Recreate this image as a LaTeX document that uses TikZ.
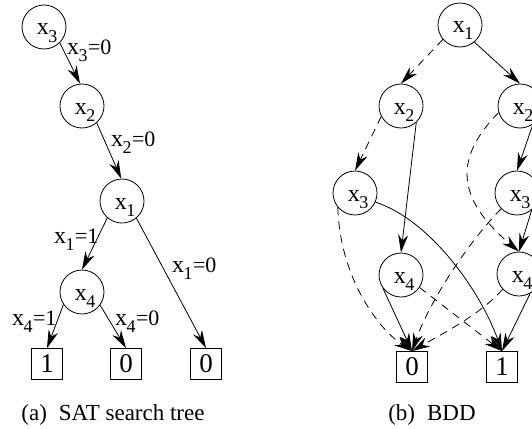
\documentclass[tikz,border=0pt]{standalone}
\usepackage{fontspec}
\setmainfont{Liberation Serif}
\usetikzlibrary{arrows.meta}

% variable name inside a circle: x with a large, low subscript
\newcommand\nlab[1]{\kern6pt\fontsize{24}{24}\selectfont x\kern-0.5pt\raisebox{-7pt}{\fontsize{18}{18}\selectfont #1}}
% branch label such as x3=0
\newcommand\elab[2]{{\fontsize{24}{24}\selectfont x}\kern-0.5pt\raisebox{-7pt}{\fontsize{18}{18}\selectfont #1}\kern0.3pt{\fontsize{22}{22}\selectfont =#2}}

\tikzset{
  var/.style={circle, draw, line width=0.8pt, minimum size=44pt, inner sep=0pt,
              text height=16pt, text depth=0pt},
  leaf/.style={rectangle, draw, line width=0.8pt, minimum width=31pt, minimum height=31pt,
               inner sep=0pt, font=\fontsize{27}{27}\selectfont},
  edgelab/.style={anchor=base west, inner sep=0pt},
  arr/.style={line width=0.8pt, -{Stealth[length=18pt,width=10pt]}},
  dsh/.style={dash pattern=on 8pt off 6pt},
  capt/.style={anchor=base, inner sep=0pt, font=\fontsize{23}{23}\selectfont},
}

\begin{document}
\begin{tikzpicture}[x=1pt, y=-1pt]
\useasboundingbox (0,0) rectangle (532,428);
\clip (0,0) rectangle (532,428);

% ---------- (a) search tree ----------
\node[var] (t3) at (44,27)  {\nlab{3}};
\node[var] (t2) at (82,106) {\nlab{2}};
\node[var] (t1) at (122,201) {\nlab{1}};
\node[var] (t4) at (82,292) {\nlab{4}};
\node[leaf] (l1)  at (47,364)  {1};
\node[leaf] (l0a) at (126,364) {0};
\node[leaf] (l0b) at (206,364) {0};

\draw[arr] (t3.-45) -- (t2.95);
\draw[arr] (t2.-49) -- (t1.92);
\draw[arr] (t1.229) -- (t4.north);
\draw[arr] (t1.-50) -- (l0b.north);
\draw[arr] (t4.214) -- (l1.north);
\draw[arr] (t4.-36) -- (l0a.north);

\node[edgelab] (e3) at (67,55)  {\elab{3}{0}};
\node[edgelab] (e2) at (111,146) {\elab{2}{0}};
\node[edgelab] (e1a) at (54,243) {\elab{1}{1}};
\node[edgelab] (e1b) at (172,272) {\elab{1}{0}};
\node[edgelab] (e4a) at (12,325) {\elab{4}{1}};
\node[edgelab] (e4b) at (115,325) {\elab{4}{0}};

\node[capt] (capa) at (113,420) {(a)\hspace{12pt}SAT search tree};

% ---------- (b) BDD ----------
\node[var] (b1)  at (460,25)  {\nlab{1}};
\node[var] (b2L) at (401,106) {\nlab{2}};
\node[var] (b2R) at (520,106) {\nlab{2}};
\node[var] (b3L) at (355,193) {\nlab{3}};
\node[var] (b3R) at (517,193) {\nlab{3}};
\node[var] (b4L) at (401,275) {\nlab{4}};
\node[var] (b4R) at (519,274) {\nlab{4}};
\node[leaf] (z0) at (412,367) {0};
\node[leaf] (z1) at (502,367) {1};

\draw[arr,dsh] (b1.220) -- (b2L.north);
\draw[arr] (b1.-50) -- (b2R.north);
\draw[arr,dsh] (b2L.208) -- (b3L.north);
\draw[arr] (b2L.-47) -- (b4L.north);
\draw[arr] (b2R.-55) -- (b3R.north);
\draw[arr,dsh] (b2R.197) .. controls (452,160) and (458,200) .. (b4R.north);
\draw[arr,dsh] (b3L.220) .. controls (340,280) and (380,330) .. (z0.north);
\draw[arr] (b3L.-24) .. controls (430,220) and (480,290) .. (z1.north);
\draw[arr] (b4L.216) -- (z0.north);
\draw[arr,dsh] (b4L.-34) -- (z1.north);
\draw[arr,dsh] (b3R.225) .. controls (470,240) and (430,300) .. (z0.north);
\draw[arr] (b3R.-49) -- (b4R.north);
\draw[arr,dsh] (b4R.223) .. controls (480,315) and (440,335) .. (z0.north);
\draw[arr] (b4R.-60) -- (z1.north);

\node[capt] (capb) at (432,420) {(b)\hspace{12pt}BDD};
\end{tikzpicture}
\end{document}
